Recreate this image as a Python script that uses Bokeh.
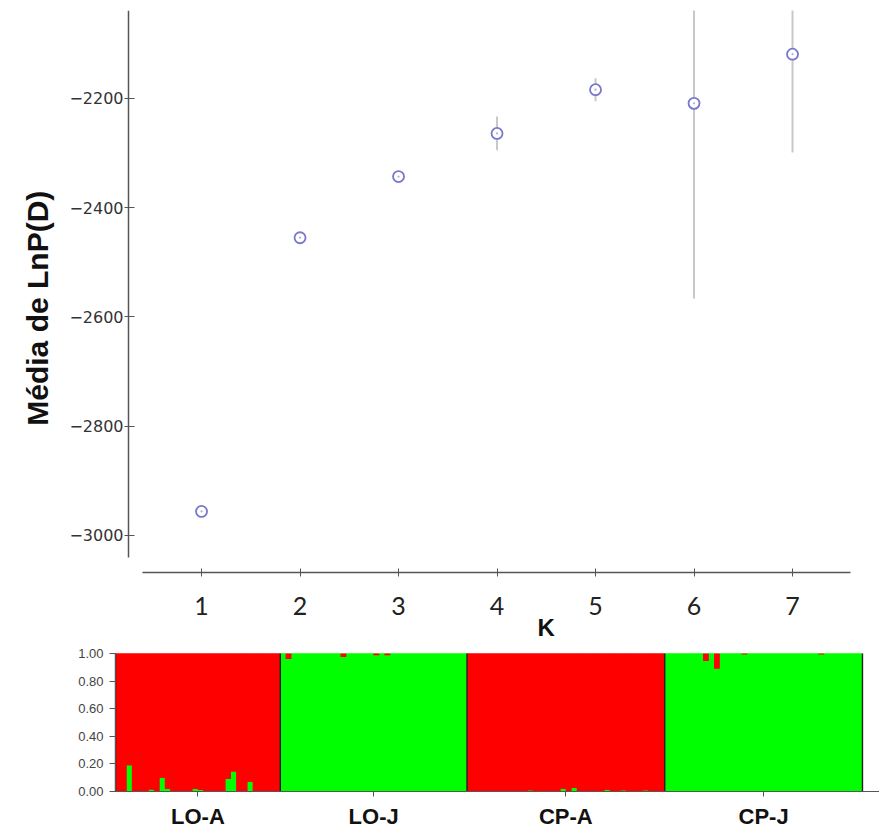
import math
from bokeh.plotting import figure
from bokeh.layouts import column
from bokeh.models import FixedTicker, Label, NumeralTickFormatter, Range1d
from bokeh.embed import file_html
from bokeh.resources import INLINE

# ---------------- Top panel: mean LnP(D) per K ----------------
K = [1, 2, 3, 4, 5, 6, 7]
mean_lnp = [-2956, -2455, -2343, -2264, -2184, -2209, -2119]
sd_lnp = [4, 5, 4, 31, 21, 357, 180]
y_ticks = [-3000, -2800, -2600, -2400, -2200]
y_tick_labels = ["\u22123000", "\u22122800", "\u22122600", "\u22122400", "\u22122200"]

# ---------------- Bottom panel: membership (K=2) ----------------
groups = ["LO-A", "LO-J", "CP-A", "CP-J"]
green_LO_A = [0, 0, 0.19, 0, 0, 0, 0.015, 0, 0.10, 0.02,
              0, 0, 0, 0, 0.02, 0.01, 0, 0, 0, 0,
              0.09, 0.145, 0, 0, 0.07, 0, 0, 0, 0, 0]
green_LO_J = [1, 0.96, 1, 1, 1, 1, 1, 1, 1, 1,
              1, 0.975, 1, 1, 1, 1, 1, 0.988, 1, 0.988,
              1, 1, 1, 1, 1, 1, 1, 1, 1, 1,
              1, 1, 1, 1]
green_CP_A = [0, 0, 0, 0, 0, 0, 0, 0, 0, 0,
              0, 0.008, 0, 0, 0, 0, 0, 0.02, 0, 0.025,
              0, 0, 0, 0, 0, 0.012, 0, 0, 0.008, 0,
              0, 0, 0.008, 0, 0, 0]
green_CP_J = [1, 1, 1, 1, 1, 1, 1, 0.945, 1, 0.89,
              1, 1, 1, 1, 0.992, 1, 1, 1, 1, 1,
              1, 1, 1, 1, 1, 1, 1, 1, 0.992, 1,
              1, 1, 1, 1, 1, 1]
group_values = [green_LO_A, green_LO_J, green_CP_A, green_CP_J]

AXIS_COLOR = "#555555"
TEXT_COLOR = "#333333"
GREEN = "#00ff00"
RED = "#ff0000"

# ---------------- Top figure ----------------
p = figure(width=879, height=644,
           x_range=Range1d(-1.041, 7.883), y_range=Range1d(-3199.6, -2039),
           output_backend="svg", toolbar_location=None,
           min_border_left=0, min_border_right=0,
           min_border_top=10, min_border_bottom=0)
p.grid.visible = False
p.outline_line_color = None

lo = [m - s for m, s in zip(mean_lnp, sd_lnp)]
hi = [m + s for m, s in zip(mean_lnp, sd_lnp)]
p.segment(x0=K, y0=lo, x1=K, y1=hi, line_color="#c8c8c8", line_width=2)
p.scatter(K, mean_lnp, marker="circle", size=11, line_color="#7777cc",
          fill_color="white", line_width=1.8)
p.scatter(K, mean_lnp, marker="dot", size=9, line_color="#b0b0e0",
          fill_color="#b0b0e0")

p.xaxis.fixed_location = -3068
p.xaxis.ticker = FixedTicker(ticks=K)
p.xaxis.bounds = (0.4, 7.59)
p.xaxis.axis_line_color = AXIS_COLOR
p.xaxis.axis_line_width = 1.5
p.xaxis.major_tick_line_color = AXIS_COLOR
p.xaxis.major_tick_in = 4
p.xaxis.major_tick_out = 4
p.xaxis.minor_tick_line_color = None
p.xaxis.major_label_standoff = 20
p.xaxis.major_label_text_font = "Lato"
p.xaxis.major_label_text_font_size = "25px"
p.xaxis.major_label_text_color = "#222222"

p.yaxis.fixed_location = 0.259
p.yaxis.ticker = FixedTicker(ticks=y_ticks)
p.yaxis.major_label_overrides = dict(zip(y_ticks, y_tick_labels))
p.yaxis.bounds = (-3040, -2039)
p.yaxis.axis_line_color = AXIS_COLOR
p.yaxis.axis_line_width = 1.5
p.yaxis.major_tick_line_color = AXIS_COLOR
p.yaxis.major_tick_in = 6
p.yaxis.major_tick_out = 4
p.yaxis.minor_tick_line_color = None
p.yaxis.major_label_standoff = 1
p.yaxis.major_label_text_font = "DejaVu Sans"
p.yaxis.major_label_text_font_size = "16px"
p.yaxis.major_label_text_color = TEXT_COLOR

y_title = Label(x=-0.665, y=-2584, text="Média de LnP(D)", angle=math.pi / 2,
                text_font="Liberation Sans", text_font_style="bold",
                text_font_size="30px", text_color="#111111",
                text_align="center", text_baseline="middle")
p.add_layout(y_title)

k_label = Label(x=4.5, y=-3168, text="K", text_font="Liberation Sans",
                text_font_style="bold", text_font_size="24px",
                text_color="#111111", text_align="center",
                text_baseline="middle")
p.add_layout(k_label)

# ---------------- Bottom figure ----------------
sizes = [len(g) for g in group_values]
N = sum(sizes)
green = [v for g in group_values for v in g]
xs = [i + 0.5 for i in range(N)]
bounds = [0]
for s in sizes:
    bounds.append(bounds[-1] + s)
centers = [(bounds[i] + bounds[i + 1]) / 2 for i in range(len(sizes))]
majority = [GREEN if sum(g) / len(g) > 0.5 else RED for g in group_values]

x_lo, x_hi = -20.94, N + 3.1
p2 = figure(width=879, height=187,
            x_range=Range1d(x_lo, x_hi), y_range=Range1d(-0.29, 1.065),
            output_backend="svg", toolbar_location=None,
            min_border_left=0, min_border_right=0,
            min_border_top=0, min_border_bottom=0)
p2.grid.visible = False
p2.outline_line_color = None

p2.quad(left=bounds[:-1], right=bounds[1:], bottom=0, top=1,
        fill_color=majority, line_color=None)
p2.vbar(x=xs, bottom=0, top=green, width=1.06, fill_color=GREEN, line_color=None)
p2.vbar(x=xs, bottom=green, top=1, width=1.06, fill_color=RED, line_color=None)
p2.segment(x0=bounds, y0=0, x1=bounds, y1=1, line_color="#222222", line_width=1.4)

p2.yaxis.fixed_location = 0
p2.yaxis.bounds = (0, 1)
p2.yaxis.ticker = FixedTicker(ticks=[0, 0.2, 0.4, 0.6, 0.8, 1.0])
p2.yaxis.formatter = NumeralTickFormatter(format="0.00")
p2.yaxis.axis_line_color = AXIS_COLOR
p2.yaxis.major_tick_line_color = AXIS_COLOR
p2.yaxis.major_tick_in = 0
p2.yaxis.major_tick_out = 6
p2.yaxis.minor_tick_line_color = None
p2.yaxis.major_label_standoff = 6
p2.yaxis.major_label_text_font = "Liberation Sans"
p2.yaxis.major_label_text_font_size = "13px"
p2.yaxis.major_label_text_color = "#444444"

p2.xaxis.fixed_location = 0
p2.xaxis.bounds = (0, x_hi)
p2.xaxis.ticker = FixedTicker(ticks=centers)
p2.xaxis.major_label_overrides = dict(zip(centers, groups))
p2.xaxis.axis_line_color = AXIS_COLOR
p2.xaxis.major_tick_line_color = AXIS_COLOR
p2.xaxis.major_tick_in = 0
p2.xaxis.major_tick_out = 5
p2.xaxis.minor_tick_line_color = None
p2.xaxis.major_label_standoff = 8
p2.xaxis.major_label_text_font = "Liberation Sans"
p2.xaxis.major_label_text_font_style = "bold"
p2.xaxis.major_label_text_font_size = "22px"
p2.xaxis.major_label_text_color = "#111111"

layout = column(p, p2, spacing=0)
open("out.html", "w").write(file_html(layout, INLINE))
